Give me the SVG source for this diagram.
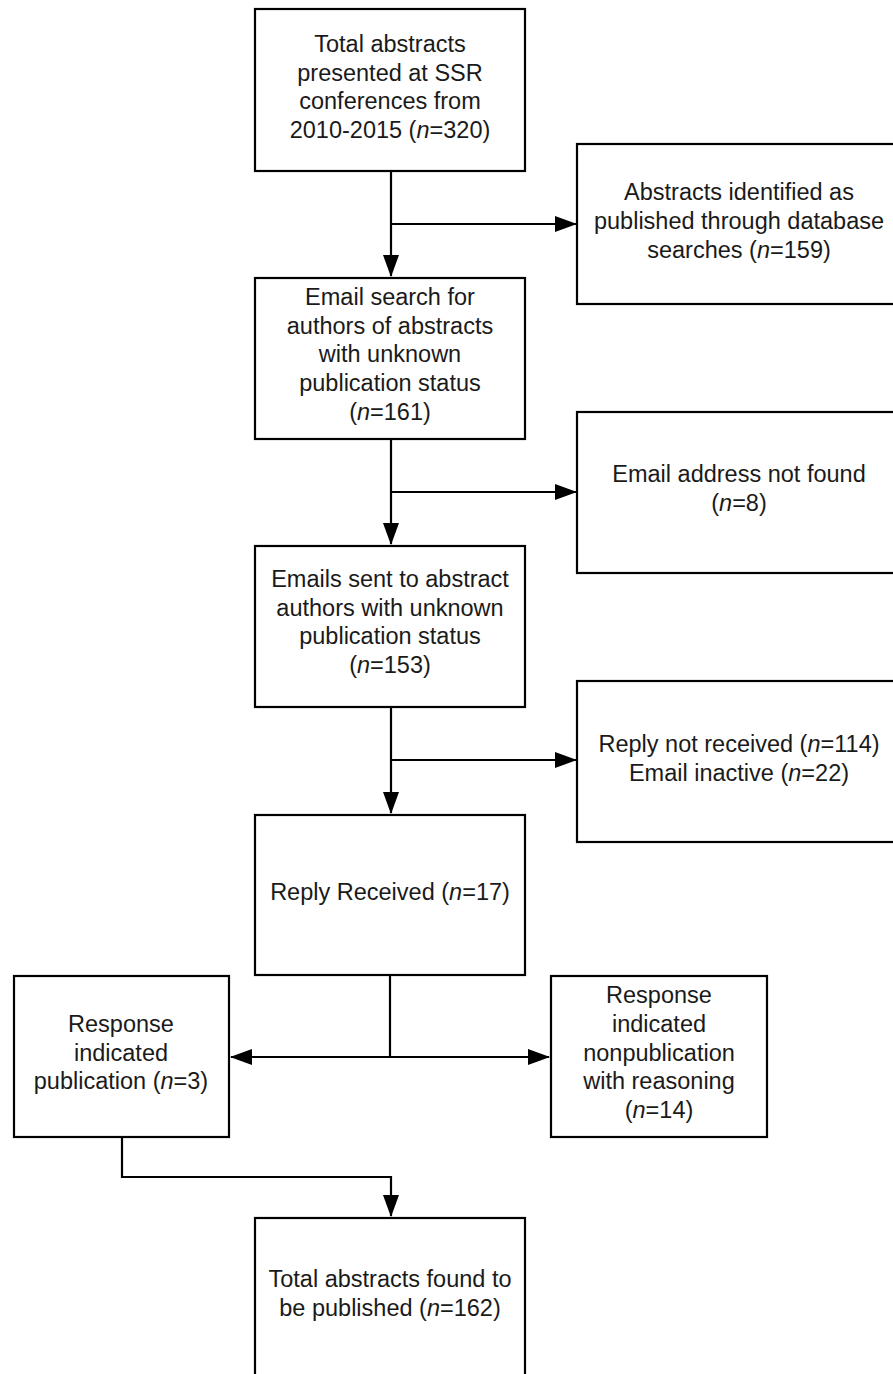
<svg xmlns="http://www.w3.org/2000/svg" width="893" height="1374" viewBox="0 0 893 1374">
<style>
.box{fill:#fff;stroke:#000;stroke-width:2.2}
.t{font-family:"Liberation Sans",Arial,sans-serif;font-size:23.5px;fill:#1a1a1a;text-anchor:middle}
.i{font-style:italic}
.c{fill:none;stroke:#000;stroke-width:2.2}
</style>
<defs>
<marker id="ah" markerUnits="userSpaceOnUse" markerWidth="22" markerHeight="16" refX="21" refY="8" orient="auto">
<path d="M0,0 L22,8 L0,16 Z" fill="#000"/>
</marker>
</defs>
<rect width="893" height="1374" fill="#fff"/>
<g id="connectors">
<path class="c" d="M391,171 V276" marker-end="url(#ah)"/>
<path class="c" d="M391,224 H576" marker-end="url(#ah)"/>
<path class="c" d="M391,439 V544" marker-end="url(#ah)"/>
<path class="c" d="M391,492 H576" marker-end="url(#ah)"/>
<path class="c" d="M391,707 V813" marker-end="url(#ah)"/>
<path class="c" d="M391,760 H576" marker-end="url(#ah)"/>
<path class="c" d="M390,975 V1057"/>
<path class="c" d="M390,1057 H231" marker-end="url(#ah)"/>
<path class="c" d="M390,1057 H549" marker-end="url(#ah)"/>
<path class="c" d="M122,1137 V1177 H391 V1216" marker-end="url(#ah)"/>
</g>
<g id="n1">
<rect class="box" x="255" y="9" width="270" height="162"/>
<text class="t" x="390" y="52">Total abstracts</text>
<text class="t" x="390" y="81">presented at SSR</text>
<text class="t" x="390" y="109">conferences from</text>
<text class="t" x="390" y="138">2010-2015 (<tspan class="i">n</tspan>=320)</text>
</g>
<g id="n2">
<rect class="box" x="577" y="144" width="330" height="160"/>
<text class="t" x="739" y="200">Abstracts identified as</text>
<text class="t" x="739" y="229">published through database</text>
<text class="t" x="739" y="258">searches (<tspan class="i">n</tspan>=159)</text>
</g>
<g id="n3">
<rect class="box" x="255" y="278" width="270" height="161"/>
<text class="t" x="390" y="305">Email search for</text>
<text class="t" x="390" y="334">authors of abstracts</text>
<text class="t" x="390" y="362">with unknown</text>
<text class="t" x="390" y="391">publication status</text>
<text class="t" x="390" y="420">(<tspan class="i">n</tspan>=161)</text>
</g>
<g id="n4">
<rect class="box" x="577" y="412" width="330" height="161"/>
<text class="t" x="739" y="482">Email address not found</text>
<text class="t" x="739" y="511">(<tspan class="i">n</tspan>=8)</text>
</g>
<g id="n5">
<rect class="box" x="255" y="546" width="270" height="161"/>
<text class="t" x="390" y="587">Emails sent to abstract</text>
<text class="t" x="390" y="616">authors with unknown</text>
<text class="t" x="390" y="644">publication status</text>
<text class="t" x="390" y="673">(<tspan class="i">n</tspan>=153)</text>
</g>
<g id="n6">
<rect class="box" x="577" y="681" width="330" height="161"/>
<text class="t" x="739" y="752">Reply not received (<tspan class="i">n</tspan>=114)</text>
<text class="t" x="739" y="781">Email inactive (<tspan class="i">n</tspan>=22)</text>
</g>
<g id="n7">
<rect class="box" x="255" y="815" width="270" height="160"/>
<text class="t" x="390" y="900">Reply Received (<tspan class="i">n</tspan>=17)</text>
</g>
<g id="n8">
<rect class="box" x="14" y="976" width="215" height="161"/>
<text class="t" x="121" y="1032">Response</text>
<text class="t" x="121" y="1061">indicated</text>
<text class="t" x="121" y="1089">publication (<tspan class="i">n</tspan>=3)</text>
</g>
<g id="n9">
<rect class="box" x="551" y="976" width="216" height="161"/>
<text class="t" x="659" y="1003">Response</text>
<text class="t" x="659" y="1032">indicated</text>
<text class="t" x="659" y="1061">nonpublication</text>
<text class="t" x="659" y="1089">with reasoning</text>
<text class="t" x="659" y="1118">(<tspan class="i">n</tspan>=14)</text>
</g>
<g id="n10">
<rect class="box" x="255" y="1218" width="270" height="170"/>
<text class="t" x="390" y="1287">Total abstracts found to</text>
<text class="t" x="390" y="1316">be published (<tspan class="i">n</tspan>=162)</text>
</g>
</svg>
